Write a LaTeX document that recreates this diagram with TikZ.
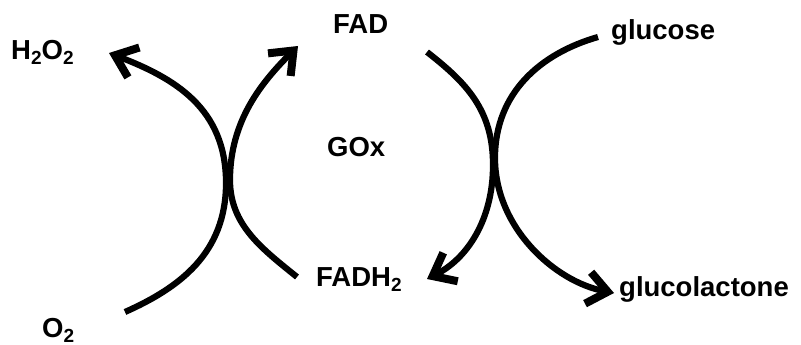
\documentclass[tikz,border=0pt]{standalone}
\usepackage{fontspec}
\setmainfont{Liberation Sans}
\usetikzlibrary{arrows.meta}
\newcommand\chemsub[1]{\raisebox{-4.5pt}{\fontsize{19}{19}\selectfont #1}}
\begin{document}
\begin{tikzpicture}[x=1pt,y=1pt,
  lbl/.style={inner sep=0pt, anchor=base west, font=\fontsize{27.5}{32}\selectfont\bfseries},
  flow/.style={line width=6.2pt, -{Straight Barb[length=20pt,width=32pt,line width=8pt]}}]
\useasboundingbox (0,0) rectangle (801,345);
% labels
\node[lbl] (h2o2) at (11,285) {H\chemsub{2}O\chemsub{2}};
\node[lbl] (o2) at (42,7) {O\chemsub{2}};
\node[lbl] (fad) at (333,311) {FAD};
\node[lbl] (gox) at (327,188) {GOx};
\node[lbl] (fadh2) at (316,58) {FADH\chemsub{2}};
\node[lbl] (glc) at (611,305) {glucose};
\node[lbl] (glcl) at (619,48) {glucolactone};
% curve end points
\coordinate (aS) at (125,33);
\coordinate (aM) at (226,162);
\coordinate (aE) at (109,292);
\coordinate (bS) at (297,68);
\coordinate (bM) at (230,165);
\coordinate (bE) at (298,299);
\coordinate (cS) at (427,293);
\coordinate (cM) at (493,180);
\coordinate (cE) at (427,66);
\coordinate (dS) at (598,308);
\coordinate (dM) at (495,187);
\coordinate (dE) at (614,52);
% curves
\draw[flow] (aS) to[out=24,in=-90,out distance=60,in distance=70] (aM)
  to[out=90,in=-21,out distance=75,in distance=70] (aE);
\draw[flow] (bS) to[out=141,in=-90,out distance=45,in distance=45] (bM)
  to[out=90,in=225,out distance=60,in distance=50] (bE);
\draw[flow] (cS) to[out=-38,in=90,out distance=50,in distance=55] (cM)
  to[out=-90,in=27,out distance=55,in distance=45] (cE);
\draw[flow] (dS) to[out=196,in=90,out distance=60,in distance=65] (dM)
  to[out=-90,in=169,out distance=70,in distance=60] (dE);
\end{tikzpicture}
\end{document}
